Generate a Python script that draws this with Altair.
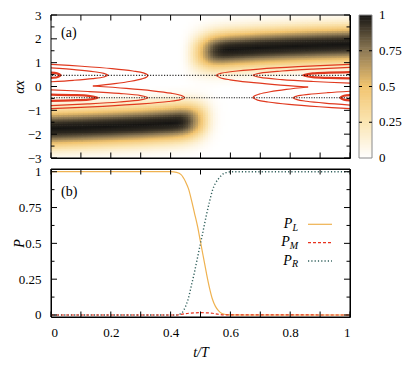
import altair as alt
import numpy as np
import pandas as pd

FONT = "Liberation Serif, DejaVu Serif, Noto Serif, serif"

# ---------------- panel (b): populations ----------------
T_PL = [0.0, 0.40, 0.42, 0.435, 0.45, 0.46, 0.47, 0.48, 0.49, 0.50, 0.51, 0.52,
        0.53, 0.54, 0.55, 0.56, 0.57, 0.58, 0.60, 0.65, 1.0]
P_L = [1.0, 1.0, 0.995, 0.98, 0.93, 0.88, 0.80, 0.71, 0.62, 0.51, 0.40, 0.29,
       0.19, 0.11, 0.06, 0.03, 0.012, 0.005, 0.001, 0.0, 0.0]
T_PM = [0.0, 0.42, 0.44, 0.46, 0.48, 0.50, 0.52, 0.54, 0.56, 0.58, 1.0]
P_M = [0.0, 0.0, 0.006, 0.012, 0.015, 0.016, 0.015, 0.012, 0.005, 0.001, 0.0]
T_PR = [0.0, 0.42, 0.43, 0.44, 0.45, 0.46, 0.47, 0.48, 0.49, 0.50, 0.51, 0.52,
        0.53, 0.54, 0.55, 0.56, 0.57, 0.58, 0.59, 0.60, 1.0]
P_R = [0.0, 0.0, 0.005, 0.02, 0.06, 0.12, 0.21, 0.30, 0.40, 0.50, 0.60, 0.70,
       0.79, 0.87, 0.92, 0.95, 0.975, 0.99, 0.995, 1.0, 1.0]

# ---------------- panel (a): density bands ----------------
LOW_T = [0.0, 0.1, 0.2, 0.3, 0.4, 0.5, 0.6]
LOW_C = [-1.77, -1.73, -1.68, -1.62, -1.54, -1.43, -1.30]
UP_T = [0.4, 0.5, 0.6, 0.7, 0.8, 0.9, 1.0]
UP_C = [1.30, 1.43, 1.54, 1.62, 1.68, 1.73, 1.77]
PROF_D = [0.0, 0.2, 0.3, 0.4, 0.5, 0.6, 0.7, 0.8, 0.9, 1.0, 1.1, 1.2, 1.3, 1.45, 1.6]
PROF_V = [1.0, 0.95, 0.88, 0.78, 0.66, 0.53, 0.41, 0.31, 0.22, 0.15, 0.10, 0.06, 0.035, 0.012, 0.0]

# colour bar
CB_VALUES = [0, 0.25, 0.5, 0.75, 1]
CB_LABELS = ["0", "0.25", "0.5", "0.75", "1"]
CB_COLORS = ["#ffffff", "#fbe5b2", "#f2c46e", "#8e7a55", "#161513"]
CB_TICKS = [0.25, 0.5, 0.75]

# contour lines (t/T, alpha x), with line width
CONTOURS = [
    ([(0.0, 0.93), (0.103, 0.85), (0.204, 0.75), (0.274, 0.65), (0.309, 0.57), (0.324, 0.47),
      (0.320, 0.40), (0.304, 0.32), (0.267, 0.22), (0.213, 0.12), (0.140, 0.02)], 1.2),
    ([(0.140, 0.02), (0.252, -0.08), (0.339, -0.18), (0.401, -0.28), (0.434, -0.37), (0.447, -0.47),
      (0.433, -0.55), (0.393, -0.63), (0.304, -0.73), (0.174, -0.83), (0.0, -0.93)], 1.2),
    ([(0.0, 0.78), (0.085, 0.70), (0.145, 0.62), (0.177, 0.55), (0.19, 0.47), (0.177, 0.40),
      (0.139, 0.33), (0.075, 0.26), (0.0, 0.20)], 1.2),
    ([(0.0, -0.14), (0.123, -0.21), (0.228, -0.29), (0.300, -0.38), (0.324, -0.47), (0.300, -0.56),
      (0.228, -0.65), (0.123, -0.73), (0.0, -0.80)], 1.2),
    ([(0.0, 0.58), (0.02, 0.55), (0.032, 0.47), (0.02, 0.39), (0.0, 0.36)], 2.2),
    ([(0.0, -0.34), (0.07, -0.36), (0.125, -0.39), (0.157, -0.47), (0.125, -0.55), (0.07, -0.58),
      (0.0, -0.60)], 2.2),
    ([(1.0, -0.93), (0.897, -0.85), (0.796, -0.75), (0.726, -0.65), (0.691, -0.57), (0.676, -0.47),
      (0.680, -0.40), (0.696, -0.32), (0.733, -0.22), (0.787, -0.12), (0.860, -0.02)], 1.2),
    ([(0.860, -0.02), (0.748, 0.08), (0.661, 0.18), (0.599, 0.28), (0.566, 0.37), (0.553, 0.47),
      (0.567, 0.55), (0.607, 0.63), (0.696, 0.73), (0.826, 0.83), (1.0, 0.93)], 1.2),
    ([(1.0, -0.78), (0.915, -0.70), (0.855, -0.62), (0.823, -0.55), (0.81, -0.47), (0.823, -0.40),
      (0.861, -0.33), (0.925, -0.26), (1.0, -0.20)], 1.2),
    ([(1.0, 0.14), (0.877, 0.21), (0.772, 0.29), (0.700, 0.38), (0.676, 0.47), (0.700, 0.56),
      (0.772, 0.65), (0.877, 0.73), (1.0, 0.80)], 1.2),
    ([(1.0, -0.58), (0.98, -0.55), (0.968, -0.47), (0.98, -0.39), (1.0, -0.36)], 2.2),
    ([(1.0, 0.34), (0.93, 0.36), (0.875, 0.39), (0.843, 0.47), (0.875, 0.55), (0.93, 0.58),
      (1.0, 0.60)], 2.2),
]
WELL_UP = [0.47]
WELL_DN = [-0.47]

# ticks and labels
X_TICKS = [0.0, 0.1, 0.2, 0.3, 0.4, 0.5, 0.6, 0.7, 0.8, 0.9, 1.0]
X_LABELS = [0.0, 0.2, 0.4, 0.6, 0.8, 1.0]
A_MAJ = [-3, -2, -1, 0, 1, 2, 3]
A_MIN = [-2.5, -1.5, -0.5, 0.5, 1.5, 2.5]
P_MAJ = [0, 0.25, 0.5, 0.75, 1]
P_MIN = [0.125, 0.375, 0.625, 0.875]

C_RED = "#e0391f"
C_L = "#efb250"
C_M = "#e8321e"
C_R = "#2f5f5b"

W, HA, HB = 299, 143, 148
A_LO, A_HI = -3, 3

# ---------------- heat map grid ----------------
NT, NX = 120, 80
te = np.linspace(0, 1, NT + 1)
xe = np.linspace(A_LO, A_HI, NX + 1)
tc = 0.5 * (te[:-1] + te[1:])
xc = 0.5 * (xe[:-1] + xe[1:])
aL = np.interp(tc, T_PL, P_L)
aR = np.interp(tc, T_PR, P_R)
cL = np.interp(tc, LOW_T, LOW_C)
cR = np.interp(tc, UP_T, UP_C)
TI, XI = np.meshgrid(np.arange(NT), np.arange(NX), indexing="ij")
rho = (aL[TI] * np.interp(np.abs(xc[XI] - cL[TI]), PROF_D, PROF_V)
       + aR[TI] * np.interp(np.abs(xc[XI] - cR[TI]), PROF_D, PROF_V))
dt = te[1] - te[0]
dx = xe[1] - xe[0]
heat_df = pd.DataFrame({
    "t": te[TI.ravel()],
    "t2": te[TI.ravel() + 1] + 0.35 * dt,
    "ax": xe[XI.ravel()],
    "ax2": xe[XI.ravel() + 1] + 0.35 * dx,
    "rho": np.round(rho.ravel(), 4),
})

# colour bar drawn through the panel's vertical scale (0..1 -> bottom..top)
NB = 100
vb = np.linspace(0, 1, NB + 1)
cbar_df = pd.DataFrame({
    "ax": A_LO + (A_HI - A_LO) * vb[:-1],
    "ax2": A_LO + (A_HI - A_LO) * np.minimum(vb[1:] + 0.004, 1.0),
    "rho": 0.5 * (vb[:-1] + vb[1:]),
})
cbar_lab = pd.DataFrame({"ax": [A_LO + (A_HI - A_LO) * v for v in CB_VALUES], "s": CB_LABELS})
cbar_tk = pd.DataFrame({"ax": [A_LO + (A_HI - A_LO) * v for v in CB_TICKS]})

rows = []
for cid, (pts, w) in enumerate(CONTOURS):
    for k, (t, a) in enumerate(pts):
        rows.append({"cid": cid, "k": k, "t": t, "ax": a, "w": w})
cont_df = pd.DataFrame(rows)

# ---------------- encodings ----------------
xa = alt.X("t:Q", scale=alt.Scale(domain=[0, 1], nice=False, zero=False), axis=None)
ya = alt.Y("ax:Q", scale=alt.Scale(domain=[A_LO, A_HI], nice=False, zero=False),
           axis=alt.Axis(values=A_MAJ, format=".3~g", title="αx", titleFontStyle="italic",
                         labelPadding=10, titleX=-28, titleY=HA / 2, titleBaseline="alphabetic"))
xb = alt.X("t:Q", scale=alt.Scale(domain=[0, 1], nice=False, zero=False),
           axis=alt.Axis(values=X_LABELS, format=".3~g", title="t/T", titleFontStyle="italic",
                         labelPadding=9, titlePadding=6))
yb = alt.Y("p:Q", scale=alt.Scale(domain=[-0.014, 1.019], nice=False, zero=False),
           axis=alt.Axis(values=P_MAJ, format=".3~g", title="P", titleFontStyle="italic",
                         labelPadding=10, titleX=-28, titleY=HB / 2, titleBaseline="alphabetic"))
cscale = alt.Scale(domain=CB_VALUES, range=CB_COLORS, clamp=True, interpolate="rgb")


def frame_and_ticks(xenc, yenc, yname, ymaj, ymin, H):
    out = []
    dfx = pd.DataFrame({"t": X_TICKS})
    out.append(alt.Chart(dfx).mark_rule(color="black", strokeWidth=1).encode(
        x=xenc, y=alt.value(0), y2=alt.value(5.5)))
    out.append(alt.Chart(dfx).mark_rule(color="black", strokeWidth=1).encode(
        x=xenc, y=alt.value(H - 5.5), y2=alt.value(H)))
    for vals, ln in ((ymaj, 6), (ymin, 3.5)):
        dfy = pd.DataFrame({yname: vals})
        out.append(alt.Chart(dfy).mark_rule(color="black", strokeWidth=1).encode(
            y=yenc, x=alt.value(0), x2=alt.value(ln)))
        out.append(alt.Chart(dfy).mark_rule(color="black", strokeWidth=1).encode(
            y=yenc, x=alt.value(W - ln), x2=alt.value(W)))
    fr = pd.DataFrame({"k": [0]})
    out.append(alt.Chart(fr).mark_rule(color="black", strokeWidth=1).encode(
        x=alt.value(0), y=alt.value(0), y2=alt.value(H)))
    out.append(alt.Chart(fr).mark_rule(color="black", strokeWidth=1).encode(
        x=alt.value(W), y=alt.value(0), y2=alt.value(H)))
    out.append(alt.Chart(fr).mark_rule(color="black", strokeWidth=1).encode(
        y=alt.value(0), x=alt.value(0), x2=alt.value(W)))
    out.append(alt.Chart(fr).mark_rule(color="black", strokeWidth=1).encode(
        y=alt.value(H), x=alt.value(0), x2=alt.value(W)))
    return out


# ---------------- top panel ----------------
heat = alt.Chart(heat_df).mark_rect(clip=True, strokeWidth=0).encode(
    x=xa, x2="t2:Q", y=ya, y2="ax2:Q",
    color=alt.Color("rho:Q", scale=cscale, legend=None),
)
cont = alt.Chart(cont_df).mark_line(color=C_RED, interpolate="catmull-rom", clip=True).encode(
    x=xa, y=ya, detail="cid:N", order="k:Q",
    strokeWidth=alt.StrokeWidth("w:Q", scale=None),
)
well_up = alt.Chart(pd.DataFrame({"ax": WELL_UP})).mark_rule(
    color="black", strokeWidth=1, strokeDash=[1.2, 1.6]).encode(y=ya)
well_dn = alt.Chart(pd.DataFrame({"ax": WELL_DN})).mark_rule(
    color="#222222", strokeWidth=1.1, strokeDash=[1.2, 1.3]).encode(y=ya)

CBX0, CBX1 = 308, 321
cbar = alt.Chart(cbar_df).mark_rect(strokeWidth=0).encode(
    x=alt.value(CBX0), x2=alt.value(CBX1), y=ya, y2="ax2:Q",
    color=alt.Color("rho:Q", scale=cscale, legend=None))
cbar_box = alt.Chart(pd.DataFrame({"k": [0]})).mark_rect(
    filled=False, stroke="#8a8a8a", strokeWidth=1).encode(
    x=alt.value(CBX0), x2=alt.value(CBX1), y=alt.value(0), y2=alt.value(HA))
cbar_ticks = [
    alt.Chart(cbar_tk).mark_rule(color="black", strokeWidth=1).encode(
        y=ya, x=alt.value(CBX0), x2=alt.value(CBX0 + 3)),
    alt.Chart(cbar_tk).mark_rule(color="black", strokeWidth=1).encode(
        y=ya, x=alt.value(CBX1 - 3), x2=alt.value(CBX1)),
]
cbar_text = alt.Chart(cbar_lab).mark_text(
    font=FONT, fontSize=13, align="left", baseline="middle", color="black").encode(
    y=ya, x=alt.value(CBX1 + 7), text="s:N")

lab_a = alt.Chart(pd.DataFrame({"s": ["(a)"]})).mark_text(
    font=FONT, fontSize=14, align="left", baseline="middle", color="black").encode(
    text="s:N", x=alt.value(10), y=alt.value(18))

top = alt.layer(heat, cont, well_up, well_dn, *frame_and_ticks(xa, ya, "ax", A_MAJ, A_MIN, HA),
                cbar, cbar_box, *cbar_ticks, cbar_text, lab_a).properties(width=W, height=HA)

# ---------------- bottom panel ----------------
ln_L = alt.Chart(pd.DataFrame({"t": T_PL, "p": P_L})).mark_line(
    color=C_L, strokeWidth=1.2, interpolate="monotone").encode(x=xb, y=yb)
ln_R = alt.Chart(pd.DataFrame({"t": T_PR, "p": P_R})).mark_line(
    color=C_R, strokeWidth=1.4, strokeDash=[1.2, 2.1], interpolate="monotone").encode(x=xb, y=yb)
ln_M = alt.Chart(pd.DataFrame({"t": T_PM, "p": P_M})).mark_line(
    color=C_M, strokeWidth=1.2, strokeDash=[3, 2], interpolate="monotone").encode(x=xb, y=yb)

key_layers = []
keys = [("L", C_L, None, 55.3, 5.8, 1.2), ("M", C_M, [3, 2], 73.7, 8.3, 1.2), ("R", C_R, [1.2, 2.1], 92.0, 6.1, 1.4)]
one = pd.DataFrame({"s": ["P"]})
for sub, col, dash, yy, sw, lw in keys:
    kw = dict(color=col, strokeWidth=lw)
    if dash:
        kw["strokeDash"] = dash
    key_layers.append(alt.Chart(one).mark_rule(**kw).encode(
        x=alt.value(257), x2=alt.value(281), y=alt.value(yy)))
    key_layers.append(alt.Chart(one).mark_text(
        font=FONT, fontSize=14, fontStyle="italic", align="right", baseline="alphabetic",
        color="black").encode(text="s:N", x=alt.value(247 - sw), y=alt.value(yy + 3.6)))
    key_layers.append(alt.Chart(pd.DataFrame({"s": [sub]})).mark_text(
        font=FONT, fontSize=10, fontStyle="italic", align="right", baseline="alphabetic",
        color="black").encode(text="s:N", x=alt.value(247), y=alt.value(yy + 6.2)))

lab_b = alt.Chart(pd.DataFrame({"s": ["(b)"]})).mark_text(
    font=FONT, fontSize=14, align="left", baseline="middle", color="black").encode(
    text="s:N", x=alt.value(10), y=alt.value(23))

bottom = alt.layer(ln_L, ln_R, ln_M, *frame_and_ticks(xb, yb, "p", P_MAJ, P_MIN, HB),
                   *key_layers, lab_b).properties(width=W, height=HB)

chart = alt.vconcat(top, bottom, spacing=11, bounds="flush").properties(
    padding={"left": 3, "top": 0, "right": 0, "bottom": 0}
).configure_view(stroke="black", strokeWidth=1).configure_axis(
    grid=False, domain=False, ticks=False, tickSize=0, labelFont=FONT, labelFontSize=13,
    labelColor="black", titleFont=FONT, titleFontSize=14, titleFontWeight="normal", titleColor="black")

chart.save("out.html", embed_options={"renderer": "svg", "actions": False})
